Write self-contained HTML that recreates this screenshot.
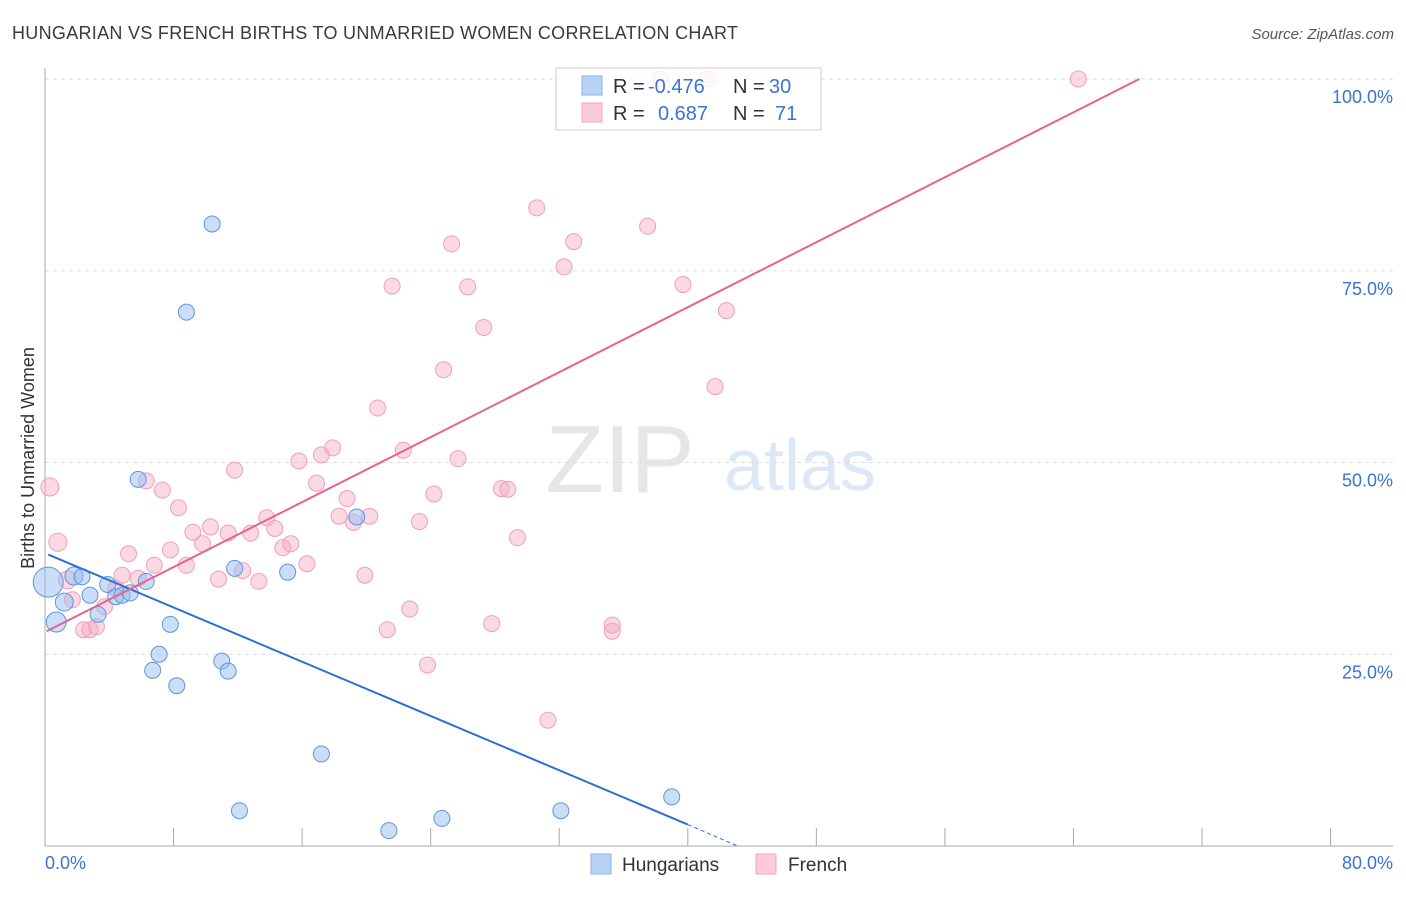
<!DOCTYPE html>
<html><head><meta charset="utf-8"><style>
body{margin:0;background:#fff;font-family:"Liberation Sans",sans-serif;}
svg text{font-family:"Liberation Sans",sans-serif;}
</style></head><body>
<svg id="chart" width="1406" height="892">
<text x="12" y="39" font-size="18" fill="#3a3a3a" letter-spacing="0.3">HUNGARIAN VS FRENCH BIRTHS TO UNMARRIED WOMEN CORRELATION CHART</text>
<text x="1394" y="39" font-size="15" fill="#555" text-anchor="end" font-style="italic">Source: ZipAtlas.com</text>
<text x="620" y="492" font-size="96" fill="#e6e6e6" font-family="Liberation Serif" text-anchor="middle">ZIP</text>
<text x="800" y="490" font-size="72" fill="#dde8f6" text-anchor="middle">atlas</text>
<text transform="translate(34,458) rotate(-90)" font-size="18" fill="#333" text-anchor="middle">Births to Unmarried Women</text>
<g id="grid"></g><g id="pts"></g><g id="lines"></g>
<g>
<rect x="556" y="68" width="265" height="62" fill="#fff" fill-opacity="0.8" stroke="#ccc"/>
<rect x="582" y="76" width="20" height="19" fill="#b7d2f5" stroke="#8ab4ea"/>
<rect x="582" y="103" width="20" height="19" fill="#fbcbd9" stroke="#f0a5bd"/>
<text x="613" y="93" font-size="20" fill="#333">R =</text>
<text x="648" y="93" font-size="20" fill="#3a73d4">-0.476</text>
<text x="733" y="93" font-size="20" fill="#333">N =</text>
<text x="769" y="93" font-size="20" fill="#3a73d4">30</text>
<text x="613" y="120" font-size="20" fill="#333">R =</text>
<text x="658" y="120" font-size="20" fill="#3a73d4">0.687</text>
<text x="733" y="120" font-size="20" fill="#333">N =</text>
<text x="775" y="120" font-size="20" fill="#3a73d4">71</text>
</g>
<g>
<rect x="591" y="854" width="20" height="20" fill="#b7d2f5" stroke="#8ab4ea"/>
<text x="622" y="871" font-size="19" fill="#333">Hungarians</text>
<rect x="756" y="854" width="20" height="20" fill="#fbcbd9" stroke="#f0a5bd"/>
<text x="788" y="871" font-size="19" fill="#333">French</text>
</g>
<text x="45" y="869" font-size="18" fill="#3a73d4">0.0%</text>
<text x="1393" y="869" font-size="18" fill="#3a73d4" text-anchor="end">80.0%</text>
</svg>
<script>
const yTicks=[25,50,75,100];
const yTickLabels=["25.0%","50.0%","75.0%","100.0%"];
const xTicks=[0,8,16,24,32,40,48,56,64,72,80];
const hunX=[0.2,0.7,1.2,1.8,2.3,2.8,3.3,3.9,4.4,4.8,5.3,6.3,5.8,7.8,7.1,6.7,8.2,8.8,10.4,11.0,11.4,11.8,15.1,17.2,19.4,12.1,21.4,24.7,32.1,39.0];
const hunY=[34.4,29.2,31.8,35.2,35.1,32.7,30.2,34.1,32.5,32.7,33.0,34.5,47.8,28.9,25.0,22.9,20.9,69.6,81.1,24.1,22.8,36.2,35.7,12.0,42.9,4.6,2.0,3.6,4.6,6.4];
const hunR=[15,10,9,9,8,8,8,8,8,8,8,8,8,8,8,8,8,8,8,8,8,8,8,8,8,8,8,8,8,8];
const frX=[0.3,0.8,1.4,1.7,2.4,2.8,3.2,3.7,4.4,4.8,5.2,5.8,6.3,6.8,7.3,7.8,8.3,8.8,9.2,9.8,10.3,10.8,11.4,11.8,12.3,12.8,13.3,13.8,14.3,14.8,15.3,15.8,16.3,16.9,17.2,17.9,18.3,18.8,19.2,19.9,20.2,20.7,21.3,21.6,22.3,22.7,23.3,23.8,24.2,25.3,25.7,26.3,27.3,27.8,28.4,28.8,29.4,30.6,31.3,32.3,32.9,35.3,37.5,39.7,41.7,42.4,64.3,38.3,41.2,24.8,35.3];
const frY=[46.8,39.6,34.7,32.1,28.2,28.2,28.6,31.2,33.6,35.3,38.1,34.9,47.6,36.6,46.4,38.6,44.1,36.6,40.9,39.4,41.6,34.8,40.8,49.0,35.9,40.8,34.5,42.8,41.4,38.9,39.4,50.2,36.8,47.3,51.0,51.9,43.0,45.3,42.2,35.3,43.0,57.1,28.2,73.0,51.6,30.9,42.3,23.6,45.9,78.5,50.5,72.9,67.6,29.0,46.6,46.5,40.2,83.2,16.4,75.5,78.8,28.8,80.8,73.2,59.9,69.8,100,100,100,62.1,28.0];
const SVGNS="http://www.w3.org/2000/svg";
const X=v=>45+v*16.07, Y=v=>846-v*7.67;
function mk(t,a,p){const e=document.createElementNS(SVGNS,t);for(const k in a)e.setAttribute(k,a[k]);p.appendChild(e);return e;}
const g=document.getElementById('grid');
yTicks.forEach((t,i)=>{
 const l=mk('line',{x1:45,x2:1393,y1:Y(t),y2:Y(t),stroke:'#ddd','stroke-dasharray':'4,4'},g);
 
 
 const tx=mk('text',{x:1393,y:Y(t)+24,'font-size':18,fill:'#3a73d4','text-anchor':'end'},g);
 tx.textContent=yTickLabels[i];
 
 
});
const ax=mk('line',{x1:45,x2:45,y1:68,y2:846,stroke:'#aaa'},g);


const bx=mk('line',{x1:45,x2:1393,y1:846,y2:846,stroke:'#aaa'},g);


xTicks.forEach(t=>{const l=mk('line',{x1:X(t),x2:X(t),y1:828,y2:846,stroke:'#aaa'},g);
 
 });
const p=document.getElementById('pts');
frX.forEach((x,i)=>{const c=mk('circle',{cx:X(x),cy:Y(frY[i]),r:i<3?9:8,fill:'rgba(245,170,195,0.45)',stroke:'#eea0ba','stroke-width':1},p);
 
 });
hunX.forEach((x,i)=>{const c=mk('circle',{cx:X(x),cy:Y(hunY[i]),r:hunR[i],fill:'rgba(150,190,240,0.5)',stroke:'#5f95dc','stroke-width':1},p);
 
 });
const L=document.getElementById('lines');
const hl=mk('line',{x1:X(0.2),y1:Y(38),x2:X(40),y2:Y(2.8),stroke:'#2e6fd6','stroke-width':2},L);


const hd=mk('line',{x1:X(40),y1:Y(2.8),x2:X(43.1),y2:Y(0),stroke:'#2e6fd6','stroke-width':1,'stroke-dasharray':'4,3'},L);


const fl=mk('line',{x1:X(0.1),y1:Y(28),x2:X(68.1),y2:Y(100),stroke:'#e8628e','stroke-width':2},L);


</script>
</body></html>
